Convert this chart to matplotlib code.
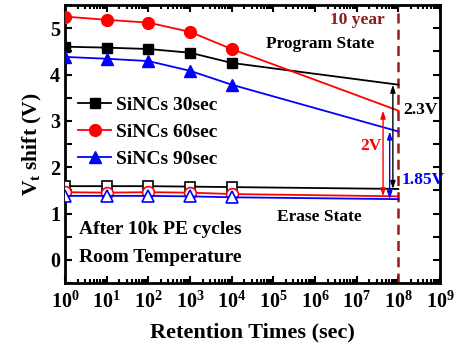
import matplotlib
matplotlib.use("Agg")
import matplotlib.pyplot as plt
from matplotlib.ticker import LogLocator, MultipleLocator, NullFormatter, FixedLocator

plt.rcParams["font.family"] = "Liberation Serif"
plt.rcParams["font.weight"] = "bold"
plt.rcParams["mathtext.fontset"] = "custom"
plt.rcParams["mathtext.rm"] = "Liberation Serif:bold"
plt.rcParams["mathtext.it"] = "Liberation Serif:bold:italic"
plt.rcParams["mathtext.bf"] = "Liberation Serif:bold"

# retention times (sec); last point is the 10-year extrapolation
times = [1, 10, 100, 1e3, 1e4, 1e8]

# program state
prog_30 = [4.60, 4.58, 4.55, 4.47, 4.25, 3.78]
prog_60 = [5.25, 5.18, 5.12, 4.92, 4.55, 3.22]
prog_90 = [4.38, 4.34, 4.29, 4.08, 3.78, 2.77]

# erase state
erase_30 = [1.59, 1.59, 1.59, 1.58, 1.57, 1.53]
erase_60 = [1.46, 1.45, 1.46, 1.45, 1.42, 1.37]
erase_90 = [1.38, 1.38, 1.38, 1.37, 1.35, 1.31]

labels = ["SiNCs 30sec", "SiNCs 60sec", "SiNCs 90sec"]
colors = ["black", "red", "blue"]
markers = ["s", "o", "^"]
msizes = [7.5, 8.5, 8.5]

# memory window arrows: x position, label
arrow_x = [7.4e7, 4.3e7, 6.2e7]
window_text = ["2.3V", "2V", "1.85V"]

ten_year = 1e8

fig = plt.figure(figsize=(4.57, 3.48), dpi=100)
ax = fig.add_axes([65 / 457, 65 / 348, 375 / 457, 278 / 348])

progs = [prog_30, prog_60, prog_90]
erases = [erase_30, erase_60, erase_90]
for prog, erase, lab, c, m, ms in zip(progs, erases, labels, colors, markers, msizes):
    ax.plot(times, prog, color=c, lw=1.3, marker=m, ms=ms, markevery=[0, 1, 2, 3, 4],
            label=lab, zorder=3)
    ax.plot(times, erase, color=c, lw=1.3, marker=m, ms=ms, mfc="white", mew=1.2,
            markevery=[0, 1, 2, 3, 4], zorder=3)

# 10 year line
ax.axvline(ten_year, color="#9b1a1a", lw=1.8, ls=(0, (4, 2.5)), zorder=2)
ax.text(4.6e7, 5.18, "10 year", color="#8b1a1a", fontsize=12.5, fontweight="bold",
        ha="right", va="center")

# memory windows
for x, prog, erase, c in zip(arrow_x, progs, erases, colors):
    ax.annotate("", xy=(x, erase[-1]), xytext=(x, prog[-1]),
                arrowprops=dict(arrowstyle="<|-|>,head_length=0.45,head_width=0.15",
                                color=c, lw=1.0, shrinkA=0, shrinkB=0))

ax.text(1.3e8, 3.24, window_text[0], color="black", fontsize=12.5, ha="left", va="center")
ax.text(2.2e7, 2.46, window_text[1], color="red", fontsize=12.5, ha="center", va="center")
ax.text(1.2e8, 1.73, window_text[2], color="blue", fontsize=12.5, ha="left", va="center")

ax.text(1.3e6, 4.66, "Program State", fontsize=12.5, ha="center", va="center")
ax.text(1.3e6, 0.93, "Erase State", fontsize=12.5, ha="center", va="center")
ax.text(2.2, 0.65, "After 10k PE cycles", fontsize=14, ha="left", va="center")
ax.text(2.2, 0.04, "Room Temperature", fontsize=14, ha="left", va="center")

ax.legend(loc="upper left", bbox_to_anchor=(0.015, 0.70), frameon=False,
          fontsize=14, handlelength=1.7, handletextpad=0.25, labelspacing=0.48,
          borderaxespad=0)

ax.set_xscale("log")
ax.set_xlim(1, 1e9)
ax.set_ylim(-0.5, 5.5)
ax.xaxis.set_major_locator(FixedLocator([10.0 ** k for k in range(10)]))
ax.set_xticklabels([r"$10^{%d}$" % k for k in range(10)])
ax.xaxis.set_minor_locator(LogLocator(base=10, subs=range(2, 10), numticks=20))
ax.xaxis.set_minor_formatter(NullFormatter())
ax.yaxis.set_major_locator(MultipleLocator(1))
ax.yaxis.set_minor_locator(MultipleLocator(0.5))

ax.tick_params(which="both", direction="in", top=True, right=True, width=1.5,
               labelsize=14.5)
ax.tick_params(which="major", length=5)
ax.tick_params(which="minor", length=3)
ax.tick_params(axis="y", which="minor", length=5)
ax.tick_params(axis="x", which="major", pad=6)
for s in ax.spines.values():
    s.set_linewidth(2)

ax.set_xlabel("Retention Times (sec)", fontsize=16, fontweight="bold", labelpad=7)
ax.set_ylabel(r"$\mathrm{V_t}$ shift (V)", fontsize=15.5, fontweight="bold", labelpad=4)

fig.savefig("out.png", dpi=100)
